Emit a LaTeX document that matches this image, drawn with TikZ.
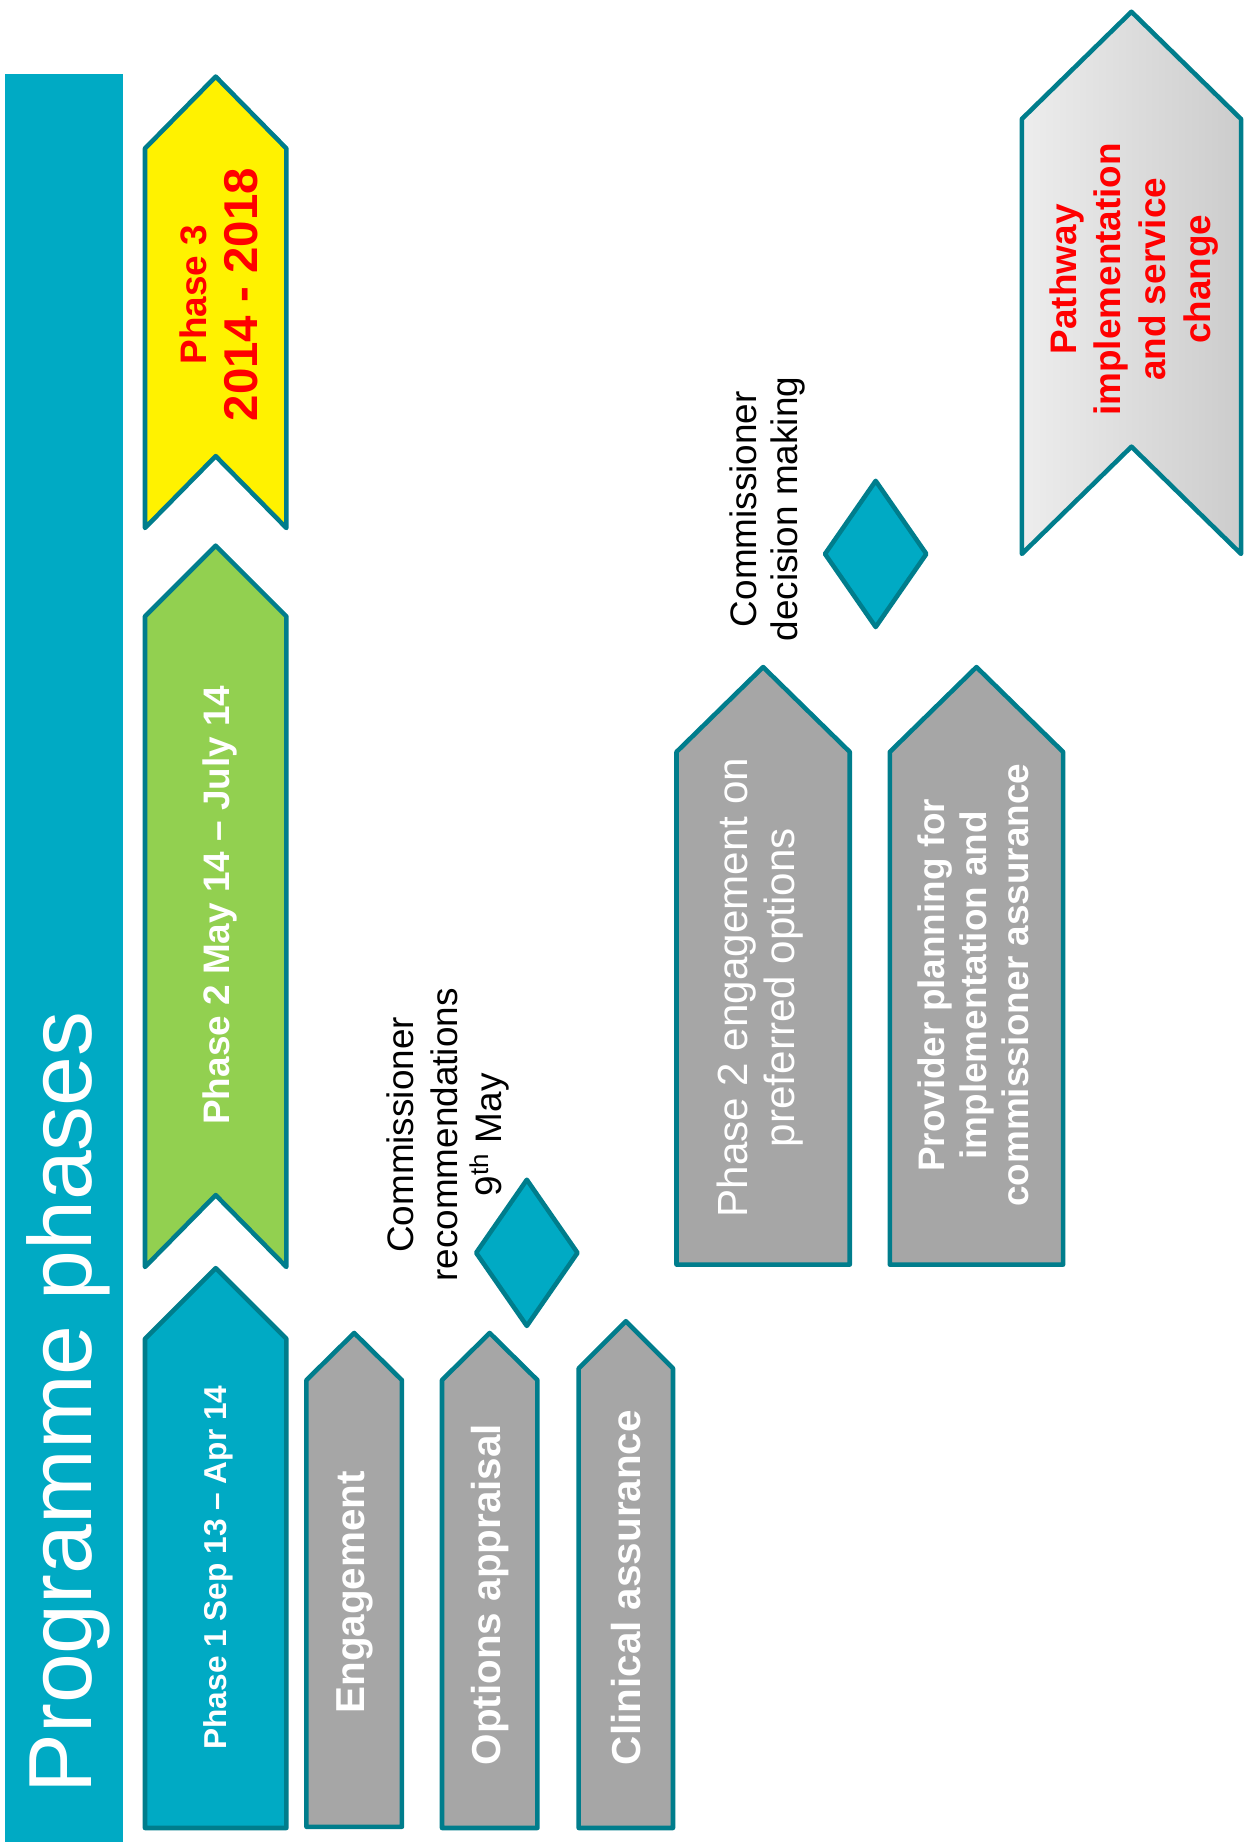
\documentclass[tikz,border=0pt]{standalone}
\usepackage{fontspec}
\setmainfont{Liberation Sans}
\definecolor{barteal}{RGB}{0,170,196}
\definecolor{edgeteal}{RGB}{0,125,140}
\definecolor{phasegreen}{RGB}{146,208,80}
\definecolor{boxgrey}{RGB}{166,166,166}

\begin{document}
\begin{tikzpicture}[x=0.023572cm,y=-0.023572cm,
        chev/.style={draw=edgeteal,line width=2.6pt,line join=round},
        whitetxt/.style={text=white,rotate=90,align=center},
        blacktxt/.style={text=black,rotate=90,align=center,font=\fontsize{21}{25}\selectfont}]
        \useasboundingbox (0,0) rectangle (1058,1568);
        \fill[barteal] (4,63) rectangle (104,1563);
        \node[whitetxt,font=\fontsize{51}{60}\selectfont] (title) at (58,1190) {Programme phases};

        % phase chevrons
        \draw[chev,fill=yellow] (123,126) -- (183,65) -- (243,126) -- (243,448) -- (183,387) -- (123,448) -- cycle;
        \draw[chev,fill=phasegreen] (123,523) -- (183,463) -- (243,523) -- (243,1075) -- (183,1014) -- (123,1075) -- cycle;
        \draw[chev,fill=barteal] (123,1136) -- (183,1076) -- (243,1136) -- (243,1551) -- (123,1551) -- cycle;
        \node[rotate=90,text=red,align=center,font=\bfseries\fontsize{27}{29}\selectfont] (phase3) at (186,250)
           {{\fontsize{21}{24}\selectfont Phase 3}\\2014 - 2018};
        \node[whitetxt,font=\bfseries\fontsize{21}{25}\selectfont] (phase2) at (187,768) {Phase 2 May 14 -- July 14};
        \node[whitetxt,font=\bfseries\fontsize{18}{22}\selectfont] (phase1) at (185,1330) {Phase 1 Sep 13 -- Apr 14};

        % phase 1 work streams
        \draw[chev,fill=boxgrey] (260,1171) -- (300.5,1131) -- (341,1171) -- (341,1550) -- (260,1550) -- cycle;
        \draw[chev,fill=boxgrey] (375,1171) -- (415.5,1131) -- (456,1171) -- (456,1551) -- (375,1551) -- cycle;
        \draw[chev,fill=boxgrey] (491,1161) -- (531,1121) -- (571,1161) -- (571,1551) -- (491,1551) -- cycle;
        \node[whitetxt,font=\bfseries\fontsize{23}{27}\selectfont] (engage) at (301,1351) {Engagement};
        \node[whitetxt,font=\bfseries\fontsize{23}{27}\selectfont] (options) at (416,1353) {Options appraisal};
        \node[whitetxt,font=\bfseries\fontsize{23}{27}\selectfont] (clinical) at (531,1347) {Clinical assurance};

        % first decision point
        \draw[chev,fill=barteal] (447,1001) -- (490,1063) -- (447,1125) -- (404,1063) -- cycle;
        \node[blacktxt] (recommend) at (380,963) {Commissioner\\recommendations\\9\textsuperscript{th} May};

        % phase 2 work streams
        \draw[chev,fill=boxgrey] (574,638) -- (647.5,566) -- (721,638) -- (721,1073) -- (574,1073) -- cycle;
        \draw[chev,fill=boxgrey] (755,638) -- (828.5,566) -- (902,638) -- (902,1073) -- (755,1073) -- cycle;
        \node[whitetxt,font=\fontsize{24}{27}\selectfont] (prefer) at (645,838) {Phase 2 engagement on\\preferred options};
        \node[whitetxt,font=\bfseries\fontsize{21}{24}\selectfont] (provider) at (826,836)
           {Provider planning for\\implementation and\\commissioner assurance};

        % second decision point
        \draw[chev,fill=barteal] (743,408) -- (786,470) -- (743,532) -- (700,470) -- cycle;
        \node[blacktxt,font=\fontsize{21}{23.5}\selectfont] (decision) at (651,432) {Commissioner\\decision making};

        % phase 3 outcome
        \draw[chev,left color=black!7,right color=black!20] (867,101) -- (960,10) -- (1053,101) -- (1053,470) -- (960,379) -- (867,470) -- cycle;
        \node[rotate=90,text=red,align=center,font=\bfseries\fontsize{21}{25.5}\selectfont] (pathway) at (962,237)
           {Pathway\\implementation\\and service\\change};
\end{tikzpicture}
\end{document}
